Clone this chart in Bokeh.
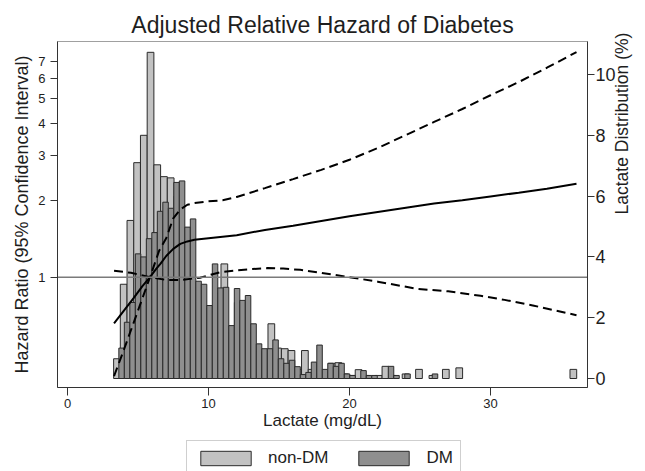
import math
from bokeh.plotting import figure
from bokeh.layouts import column
from bokeh.models import (Range1d, LinearScale, LinearAxis, FixedTicker, Span, Legend,
                          LegendItem, ColumnDataSource, NumeralTickFormatter)
from bokeh.embed import file_html
from bokeh.resources import INLINE

# ---------------- data ----------------
# Hazard ratio curve (solid) : lactate (mg/dL) -> HR
hr_x = [3.3, 4.0, 4.7, 5.3, 5.85, 6.3, 6.6, 7.0, 7.5, 8.0, 8.5, 9.0, 10.0, 11.0, 12.0,
        14.0, 16.0, 18.0, 20.0, 22.0, 24.0, 26.0, 28.0, 30.0, 32.0, 34.0, 36.1]
hr_y = [0.66, 0.74, 0.83, 0.92, 1.0, 1.08, 1.13, 1.21, 1.29, 1.35, 1.38, 1.40, 1.42, 1.44, 1.46,
        1.53, 1.59, 1.66, 1.73, 1.80, 1.87, 1.94, 2.0, 2.07, 2.14, 2.22, 2.32]

# 95% CI bound that rises steeply (lower at left, upper at right)
ci_a_x = [3.3, 4.0, 5.0, 5.85, 6.5, 7.0, 7.5, 8.0, 8.5, 9.0, 10.0, 11.0, 12.0, 14.0, 16.0,
          18.0, 20.0, 22.0, 24.0, 26.0, 28.0, 30.0, 32.0, 34.0, 36.1]
ci_a_y = [0.41, 0.52, 0.74, 1.0, 1.27, 1.42, 1.70, 1.84, 1.92, 1.95, 1.98, 2.0, 2.06, 2.23, 2.42,
          2.63, 2.88, 3.2, 3.6, 4.05, 4.55, 5.15, 5.8, 6.6, 7.6]

# 95% CI bound that stays flat (upper at left, lower at right)
ci_b_x = [3.3, 4.5, 5.85, 7.0, 8.0, 9.4, 10.85, 11.8, 13.0, 14.2, 15.3, 16.5, 18.0, 20.0,
          22.0, 24.8, 27.0, 29.3, 31.0, 33.0, 36.1]
ci_b_y = [1.06, 1.04, 1.0, 0.975, 0.975, 0.995, 1.046, 1.06, 1.075, 1.085, 1.08, 1.068, 1.04, 1.0,
          0.96, 0.90, 0.88, 0.845, 0.815, 0.775, 0.71]

# Lactate distribution histograms (% per bin)
nondm_start, nondm_width = 3.27, 0.476
nondm_pct = [0.65, 3.1, 5.2, 7.1, 8.0, 10.73, 7.03, 6.64, 6.6, 6.0,
             4.5, 4.5, 3.0, 2.3, 2.2, 2.8, 3.77, 1.5, 2.5, 2.0,
             1.5, 0.9, 0.8, 1.8, 1.0, 0.98, 0.92, 0.3, 0.92, 0.3,
             0.3, 0.2, 0.5, 0.52, 0.15, 0.1, 0.29, 0.1, 0.0, 0.1,
             0.4, 0.1, 0.0, 0.15, 0.0, 0.3, 0.0, 0.1, 0.0, 0.3,
             0.0, 0.35, 0.0, 0.0, 0.0, 0.0, 0.0, 0.0, 0.0, 0.0,
             0.0, 0.0, 0.0, 0.0, 0.0, 0.0, 0.0, 0.0, 0.3]
dm_start, dm_width = 3.64, 0.39
dm_pct = [1.0, 1.85, 2.5, 4.1, 4.0, 4.6, 4.8, 5.5, 5.8, 5.6,
          6.45, 6.5, 4.98, 5.25, 3.2, 3.1, 2.4, 3.77, 2.98, 3.0,
          1.74, 2.96, 2.57, 2.73, 1.8, 1.14, 0.98, 0.98, 1.27, 0.65,
          0.5, 0.6, 0.39, 0.13, 0.2, 0.54, 1.1, 0.3, 0.5, 0.4,
          0.5, 0.15, 0.1, 0.0, 0.26, 0.1, 0.1, 0.0, 0.0, 0.4,
          0.1, 0.0, 0.15, 0.0, 0.0, 0.0, 0.0, 0.15]

x_ticks = [0, 10, 20, 30]
hr_ticks = [1, 2, 3, 4, 5, 6, 7]
pct_ticks = [0, 2, 4, 6, 8, 10]
series_labels = ["non-DM", "DM"]


def hist_source(start, width, values):
    left, right, top = [], [], []
    for i, v in enumerate(values):
        if v > 0:
            left.append(start + i * width)
            right.append(start + (i + 1) * width)
            top.append(v)
    return ColumnDataSource(dict(left=left, right=right, top=top, bottom=[0] * len(top)))


FONT = "Liberation Sans"
TXT = "#1e1e1e"
AX = "#333333"
FILL_N = "#c2c2c2"
FILL_D = "#8f8f8f"
EDGE = "#2a2a2a"

p = figure(width=645, height=436, output_backend="svg", toolbar_location=None,
           x_range=Range1d(-0.71, 36.88), y_range=Range1d(0.370, 8.36), y_axis_type="log",
           extra_y_ranges={"pct": Range1d(-0.296, 11.086)},
           extra_y_scales={"pct": LinearScale()},
           min_border_left=57, min_border_right=58, min_border_top=41, min_border_bottom=49)
p.background_fill_color = "white"
p.border_fill_color = "white"
p.outline_line_color = "#a0a0a0"
p.xgrid.visible = False
p.ygrid.visible = False

p.title.text = "Adjusted Relative Hazard of Diabetes"
p.title.align = "center"
p.title.text_font = FONT
p.title.text_font_size = "23px"
p.title.text_font_style = "normal"
p.title.text_color = TXT
p.title.standoff = 8

# histograms on the right (linear) axis
src_n = hist_source(nondm_start, nondm_width, nondm_pct)
src_d = hist_source(dm_start, dm_width, dm_pct)
p.quad(left="left", right="right", top="top", bottom="bottom", source=src_n,
       y_range_name="pct", fill_color=FILL_N, line_color=EDGE, line_width=1)
p.quad(left="left", right="right", top="top", bottom="bottom", source=src_d,
       y_range_name="pct", fill_color=FILL_D, line_color=EDGE, line_width=1)

# reference line HR = 1
p.add_layout(Span(location=1, dimension="width", line_color="#7a7a7a", line_width=1.5,
                  level="glyph"))

# HR curve and CIs
p.line(hr_x, hr_y, line_color="black", line_width=2)
p.line(ci_a_x, ci_a_y, line_color="black", line_width=2, line_dash="9 5")
p.line(ci_b_x, ci_b_y, line_color="black", line_width=2, line_dash="9 5")


def style_axis(ax, tick_size, label_size):
    ax.axis_line_color = AX
    ax.major_tick_line_color = AX
    ax.major_tick_out = 7
    ax.major_tick_in = 0
    ax.minor_tick_out = 0
    ax.minor_tick_in = 0
    ax.major_label_text_font = FONT
    ax.major_label_text_font_size = tick_size
    ax.major_label_text_color = TXT
    ax.axis_label_text_font = FONT
    ax.axis_label_text_font_size = label_size
    ax.axis_label_text_font_style = "normal"
    ax.axis_label_text_color = TXT


xax = p.below[0]
xax.ticker = FixedTicker(ticks=x_ticks)
xax.axis_label = "Lactate (mg/dL)"
style_axis(xax, "13px", "17px")
xax.major_tick_out = 8
xax.major_label_standoff = 3
xax.axis_label_standoff = 0

lax = p.left[0]
lax.ticker = FixedTicker(ticks=hr_ticks, minor_ticks=[])
lax.formatter = NumeralTickFormatter(format="0")
lax.axis_label = "Hazard Ratio (95% Confidence Interval)"
style_axis(lax, "13px", "18px")
lax.major_label_standoff = 5
lax.axis_label_standoff = 3

rax = LinearAxis(y_range_name="pct", ticker=FixedTicker(ticks=pct_ticks, minor_ticks=[]),
                 axis_label="Lactate Distribution (%)")
style_axis(rax, "18px", "17.5px")
rax.major_label_standoff = 1
rax.axis_label_standoff = 3
rax.axis_label_text_line_height = 1.0
rax.axis_label_orientation = math.pi / 2
p.add_layout(rax, "right")

# legend strip below the plot (its frame is aligned with the main frame)
lg = figure(width=645, height=35, output_backend="svg", toolbar_location=None,
            x_range=Range1d(0, 1), y_range=Range1d(0, 1), x_axis_type=None, y_axis_type=None,
            min_border_left=0, min_border_right=0, min_border_top=0, min_border_bottom=0)
lg.outline_line_color = None
lg.background_fill_color = "white"
lg.border_fill_color = "white"
# same histogram data, lying outside this strip's ranges: only the legend swatches show
g_n = lg.quad(left="left", right="right", top="top", bottom="bottom", source=src_n,
              fill_color=FILL_N, line_color=EDGE, line_width=1)
g_d = lg.quad(left="left", right="right", top="top", bottom="bottom", source=src_d,
              fill_color=FILL_D, line_color=EDGE, line_width=1)
legend = Legend(items=[LegendItem(label=series_labels[0], renderers=[g_n]),
                       LegendItem(label=series_labels[1], renderers=[g_d])],
                orientation="horizontal", location=(129, -5),
                glyph_width=63, glyph_height=18, label_standoff=11, spacing=24,
                padding=7, margin=0, border_line_color="#a0a0a0", border_line_width=1.5,
                label_text_font=FONT, label_text_font_size="17px", label_text_color=TXT)
lg.add_layout(legend)

layout = column(p, lg, spacing=0)
open("out.html", "w").write(file_html(layout, INLINE))
